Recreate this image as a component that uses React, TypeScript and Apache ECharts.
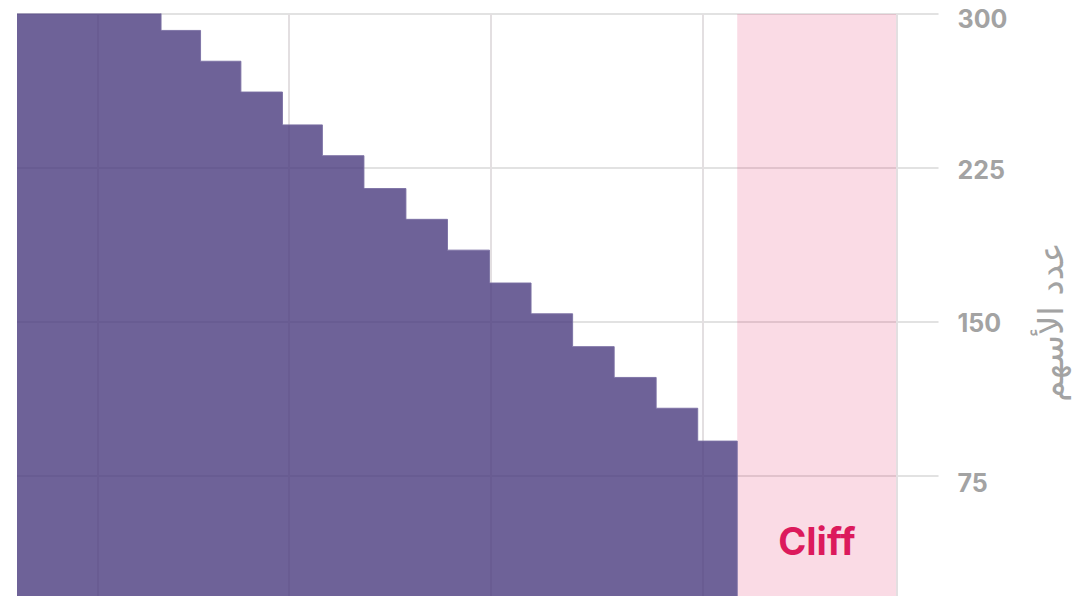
import React, { useEffect, useRef } from "react";
import * as echarts from "echarts";

// Step data: month position where each level starts, and number of shares held from there
const months = [3.5, 7, 7.96, 8.94, 9.95, 10.92, 11.93, 12.95, 13.96, 14.98, 15.99, 17, 18.01, 19.03, 20.04, 21];
const shares = [308, 292, 277, 262, 246, 231, 215, 200, 185, 169, 154, 138, 123, 108, 92, 0];

// Vertical reference lines (month positions)
const vLineMonths = [5.47, 10.11, 15.01, 20.15, 24.87];

// Cliff period
const cliffRange = [21, 24.87];
const cliffLabel = "Cliff";

// Axis settings
const xRange = [3.5, 25.89];
const yMin = 0;
const yMax = 300;
const yInterval = 75;
const yAxisName = "عدد الأسهم";

const labelFont = {
  color: "#a3a3a3",
  fontSize: 25,
  fontWeight: 700,
  fontFamily: "Inter, 'DejaVu Sans', sans-serif",
};

export default function App() {
  const ref = useRef<HTMLDivElement>(null);

  useEffect(() => {
    if (!ref.current) return;
    const chart = echarts.init(ref.current, null, { renderer: "svg" });
    const stepData = months.map((m, i) => [m, shares[i]]);
    const labelShift: Record<string, number> = { "300": 10, "225": 4, "150": 2, "75": 14 };
    const rich: Record<string, any> = {};
    Object.keys(labelShift).forEach((k) => {
      rich["t" + k] = { ...labelFont, padding: [labelShift[k], 0, 0, 0] };
    });

    chart.setOption({
      animation: false,
      backgroundColor: "#ffffff",
      grid: { left: 17, right: 141.5, top: 14, bottom: 50 },
      xAxis: {
        type: "value",
        min: xRange[0],
        max: xRange[1],
        show: false,
      },
      yAxis: {
        type: "value",
        position: "right",
        min: yMin,
        max: yMax,
        interval: yInterval,
        axisLine: { show: false },
        axisTick: { show: false },
        splitLine: { lineStyle: { color: "#e2e2e2", width: 2 } },
        axisLabel: {
          margin: 19,
          showMinLabel: false,
          ...labelFont,
          formatter: (v: number) => (v === 0 ? "" : `{t${v}|${v}}`),
          rich,
        },
        name: yAxisName,
        nameLocation: "middle",
        nameGap: 95,
        nameTextStyle: {
          color: "#a3a3a3",
          fontSize: 34,
          fontWeight: 400,
          fontFamily: "'DejaVu Sans', sans-serif",
        },
      },
      series: [
        {
          type: "line",
          name: "cliff",
          data: [],
          z: 1,
          silent: true,
          markArea: {
            silent: true,
            z: 1,
            itemStyle: { color: "rgba(222, 30, 95, 0.16)" },
            label: {
              show: true,
              position: "insideBottom",
              distance: 70,
              formatter: cliffLabel,
              color: "#dc1a5c",
              fontSize: 38,
              fontWeight: 700,
              fontFamily: "Inter, 'DejaVu Sans', sans-serif",
            },
            data: [[{ xAxis: cliffRange[0] }, { xAxis: cliffRange[1] }]],
          },
        },
        {
          type: "line",
          name: "lines",
          data: [],
          z: 2,
          silent: true,
          markLine: {
            silent: true,
            z: 2,
            symbol: "none",
            label: { show: false },
            lineStyle: { color: "#e3dfe1", width: 2, type: "solid" },
            data: vLineMonths.map((m) => ({ xAxis: m })),
          },
        },
        {
          type: "line",
          name: "shares",
          step: "end",
          data: stepData,
          z: 3,
          showSymbol: false,
          symbol: "none",
          lineStyle: { width: 1, color: "rgba(122, 111, 163, 0.9)" },
          areaStyle: { color: "rgba(74, 59, 126, 0.8)", opacity: 1 },
        },
      ],
    });
    return () => chart.dispose();
  }, []);

  return (
    <div
      style={{
        position: "fixed",
        left: 0,
        top: 0,
        width: 1080,
        height: 596,
        overflow: "hidden",
        background: "#fff",
      }}
    >
      <div ref={ref} style={{ width: 1080, height: 680 }} />
    </div>
  );
}
